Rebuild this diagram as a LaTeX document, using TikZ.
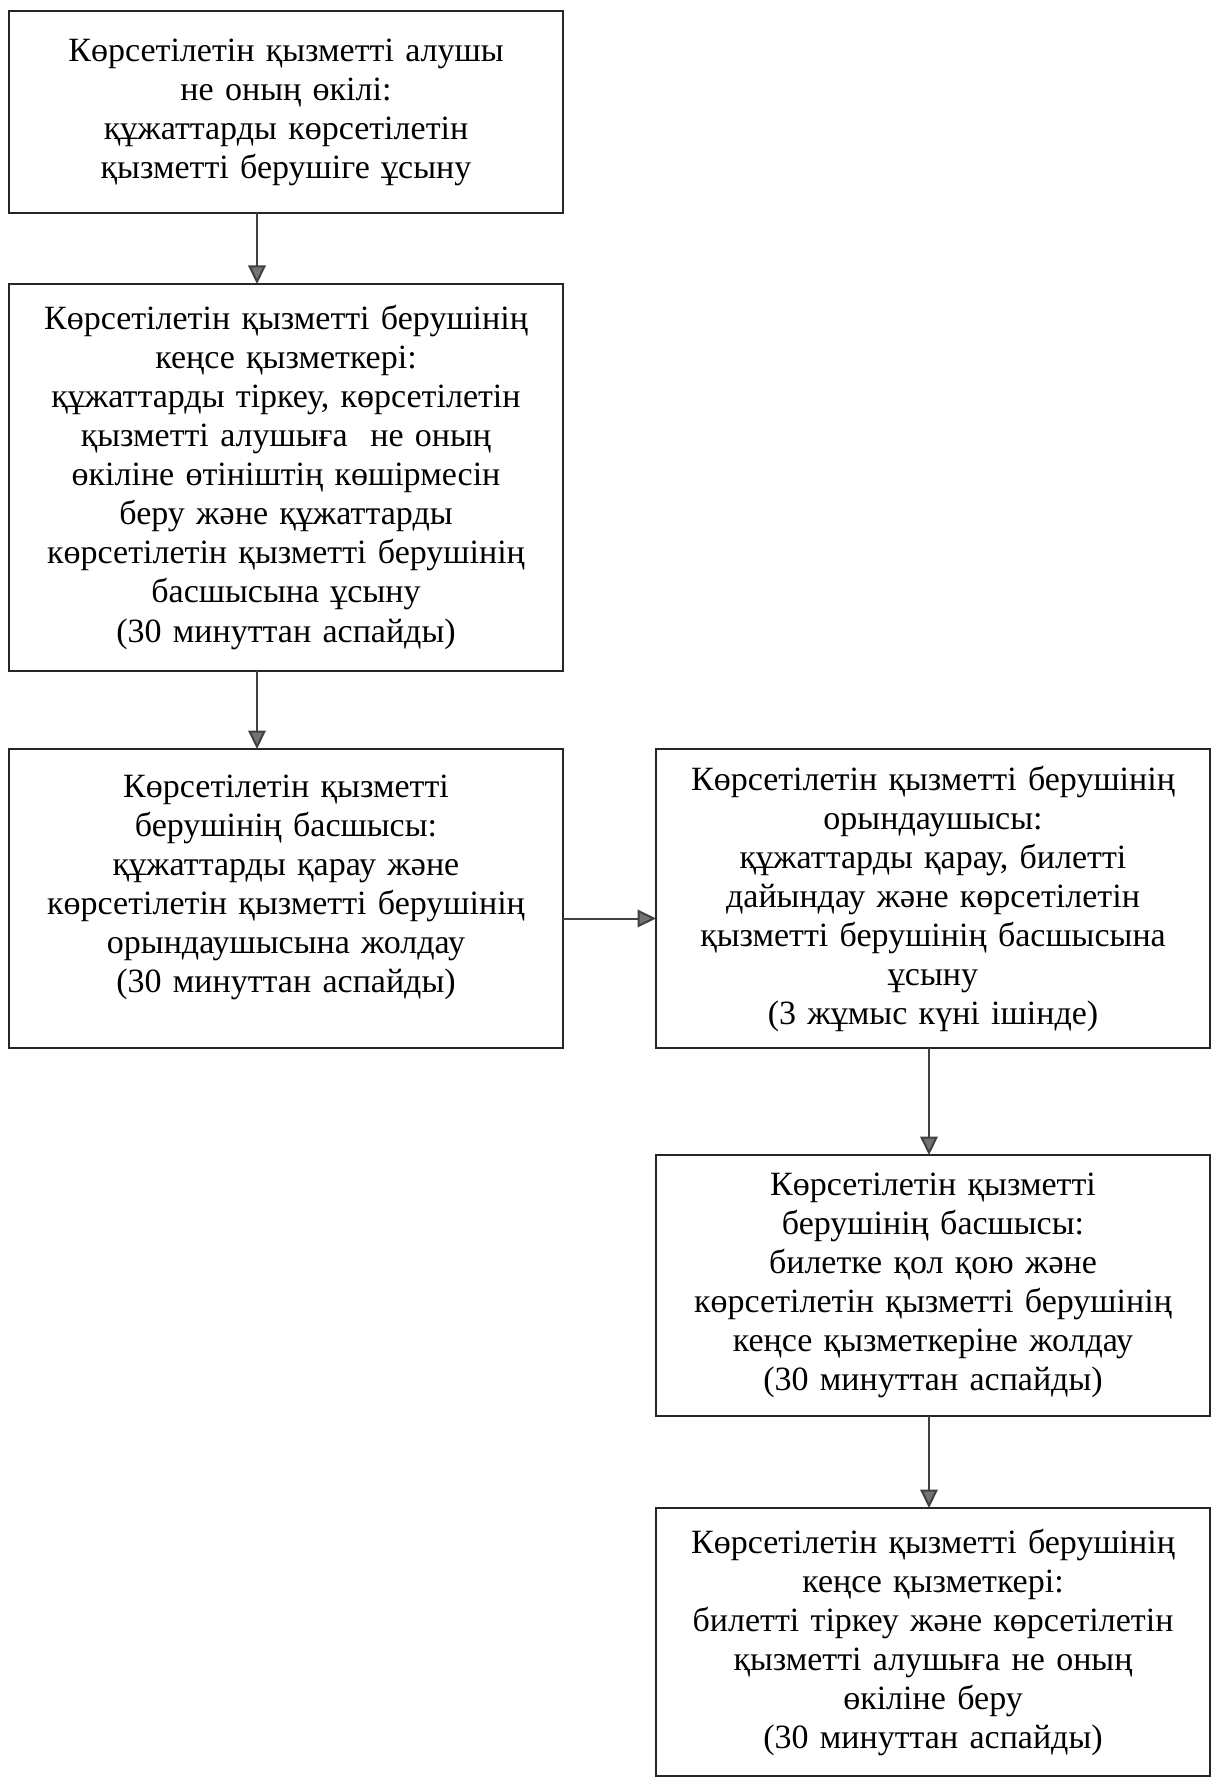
\documentclass[tikz,border=0pt]{standalone}
\usepackage{fontspec}
\setmainfont{Liberation Serif}
\usetikzlibrary{arrows.meta,positioning}

\begin{document}
\begin{tikzpicture}[->,>={Triangle[open,fill=black!55,length=7.4pt,width=7pt]},
  line width=0.8pt,
  main node/.style={rectangle,draw=black!85,line width=1pt,fill=white,align=center,
    text width=216pt,minimum width=221.6pt,inner sep=2pt,outer sep=0pt,
    font=\fontsize{13.6}{15.6}\selectfont}]

 \useasboundingbox (0,0) rectangle (484.4pt,-710.8pt);

 \node[main node,minimum height=80.8pt,anchor=north west] (1) at (3.6pt,-4.4pt)
   {Көрсетілетін қызметті алушы\\ не оның өкілі:\\ құжаттарды көрсетілетін\\ қызметті берушіге ұсыну};
 \node[main node,minimum height=154.8pt] (2) [below=28.4pt of 1]
   {Көрсетілетін қызметті берушінің\\ кеңсе қызметкері:\\ құжаттарды тіркеу, көрсетілетін\\
    қызметті алушыға\ \ не оның\\ өкіліне өтініштің көшірмесін\\ беру және құжаттарды\\
    көрсетілетін қызметті берушінің\\ басшысына ұсыну\\ (30 минуттан аспайды)};
 \node[main node,minimum height=119.6pt] (3) [below=31.2pt of 2]
   {Көрсетілетін қызметті\\ берушінің басшысы:\\ құжаттарды қарау және\\
    көрсетілетін қызметті берушінің\\ орындаушысына жолдау\\ (30 минуттан аспайды)\\[-3.6pt]\mbox{}};
 \node[main node,minimum height=119.6pt] (4) [right=37.2pt of 3]
   {Көрсетілетін қызметті берушінің\\ орындаушысы:\\ құжаттарды қарау, билетті\\
    дайындау және көрсетілетін\\ қызметті берушінің басшысына\\ ұсыну\\ (3 жұмыс күні ішінде)};
 \node[main node,minimum height=104.4pt] (5) [below=42.8pt of 4]
   {Көрсетілетін қызметті\\ берушінің басшысы:\\ билетке қол қою және\\
    көрсетілетін қызметті берушінің\\ кеңсе қызметкеріне жолдау\\ (30 минуттан аспайды)};
 \node[main node,minimum height=107.2pt] (6) [below=36.8pt of 5]
   {Көрсетілетін қызметті берушінің\\ кеңсе қызметкері:\\ билетті тіркеу және көрсетілетін\\
    қызметті алушыға не оның\\ өкіліне беру\\ (30 минуттан аспайды)};

 \path[every edge/.append style={draw=black!75}]
    ([xshift=-11.6pt]1.south)	edge ([xshift=-11.6pt]2.north)
    ([xshift=-11.6pt]2.south)	edge ([xshift=-11.6pt]3.north)
    ([yshift=-8pt]3.east)	edge ([yshift=-8pt]4.west)
    ([xshift=-1.6pt]4.south)	edge ([xshift=-1.6pt]5.north)
    ([xshift=-1.6pt]5.south)	edge ([xshift=-1.6pt]6.north);

\end{tikzpicture}
\end{document}
